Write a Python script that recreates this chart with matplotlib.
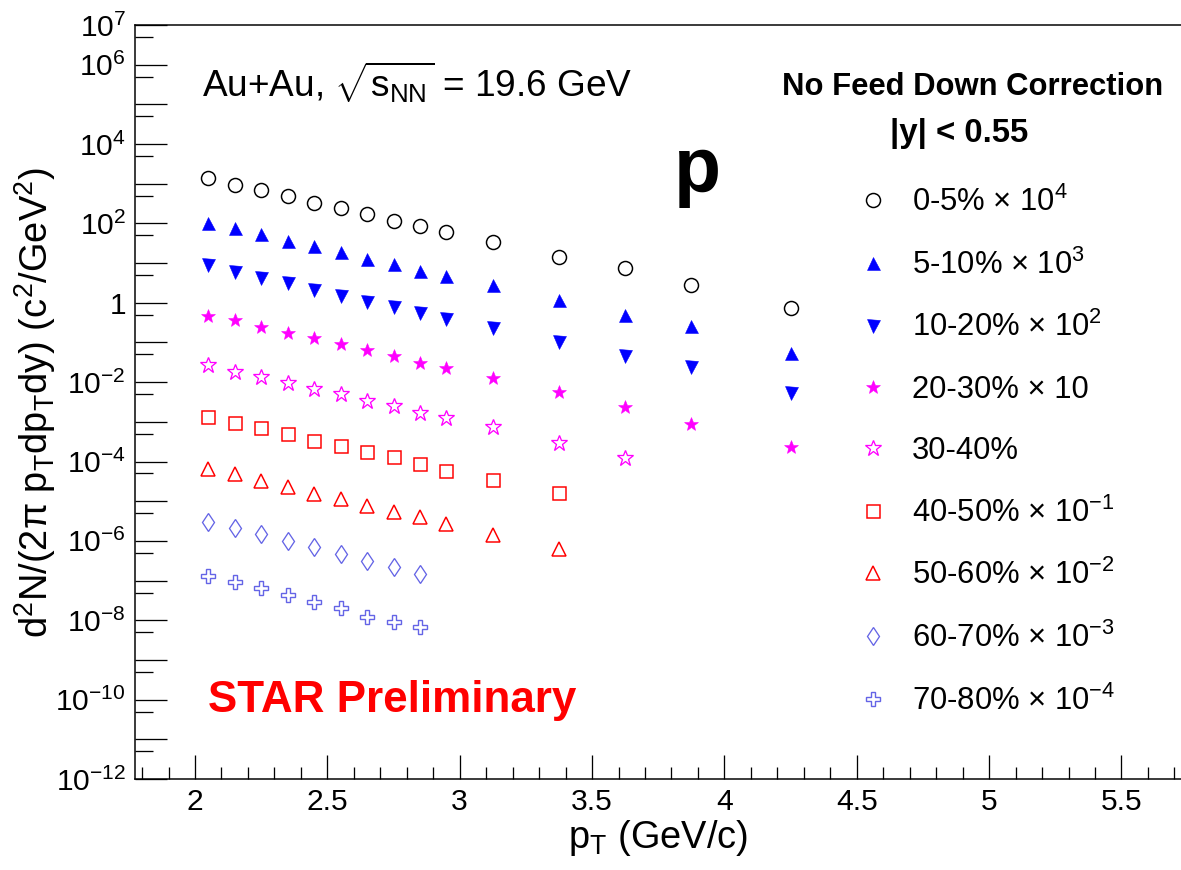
#!/usr/bin/env python3
"""Proton pT spectra, Au+Au 19.6 GeV, STAR preliminary style (ROOT look-alike)."""
import numpy as np
import matplotlib
matplotlib.use('Agg')
import matplotlib.pyplot as plt

plt.rcParams['font.family'] = ['Liberation Sans', 'DejaVu Sans']
plt.rcParams['mathtext.fontset'] = 'custom'
plt.rcParams['mathtext.rm'] = 'Liberation Sans'
plt.rcParams['mathtext.it'] = 'Liberation Sans:italic'
plt.rcParams['mathtext.bf'] = 'Liberation Sans:bold'
plt.rcParams['mathtext.default'] = 'regular'

# pT bin centres (GeV/c)
pt = [2.05, 2.15, 2.25, 2.35, 2.45, 2.55, 2.65, 2.75, 2.85, 2.95, 3.125, 3.375, 3.625, 3.875, 4.25]

# scaled yields as drawn (already multiplied by the factor in the legend)
y_0_5 = [1371, 944, 695, 490, 333, 249, 173, 117, 84.5, 60.7, 33.4, 14.2, 7.38, 2.80, 0.75]
y_5_10 = [104, 78, 53, 36.6, 26.9, 18.7, 12.7, 9.5, 6.43, 4.8, 2.75, 1.17, 0.49, 0.26, 0.055]
y_10_20 = [8.95, 5.96, 4.13, 3.09, 2.10, 1.48, 1.06, 0.77, 0.56, 0.383, 0.235, 0.101, 0.046, 0.0236, 0.0052]
y_20_30 = [0.472, 0.368, 0.249, 0.176, 0.127, 0.0897, 0.0645, 0.0455, 0.0309, 0.0223,
           0.0129, 0.00553, 0.00232, 0.000895, 0.000236]
y_30_40 = [0.027, 0.0183, 0.0137, 0.00934, 0.00659, 0.00493, 0.00334, 0.0025, 0.00169, 0.00122,
           0.000726, 0.000287, 0.000120]
y_40_50 = [0.00135, 0.000949, 0.00071, 0.000484, 0.000334, 0.00025, 0.00017, 0.000127, 8.65e-5, 5.86e-5,
           3.41e-5, 1.58e-5]
y_50_60 = [6.35e-5, 4.83e-5, 3.22e-5, 2.23e-5, 1.51e-5, 1.13e-5, 7.67e-6, 5.24e-6, 3.92e-6, 2.65e-6,
           1.40e-6, 6.12e-7]
y_60_70 = [3.03e-6, 2.14e-6, 1.46e-6, 9.9e-7, 6.87e-7, 4.67e-7, 3.16e-7, 2.15e-7, 1.46e-7]
y_70_80 = [1.32e-7, 9.34e-8, 6.37e-8, 4.31e-8, 2.93e-8, 2.0e-8, 1.22e-8, 9.16e-9, 6.86e-9]

labels = ['0-5% × 10$^{4}$', '5-10% × 10$^{3}$', '10-20% × 10$^{2}$', '20-30% × 10', '30-40%',
          '40-50% × 10$^{-1}$', '50-60% × 10$^{-2}$', '60-70% × 10$^{-3}$', '70-80% × 10$^{-4}$']

LBLUE = '#6464e6'
styles = [
    dict(marker='o', ms=14, mfc='none', mec='black', mew=1.5),
    dict(marker='^', ms=13, mfc='blue', mec='blue', mew=0.5),
    dict(marker='v', ms=13, mfc='blue', mec='blue', mew=0.5),
    dict(marker='*', ms=15, mfc='magenta', mec='magenta', mew=0.5),
    dict(marker='*', ms=17, mfc='none', mec='magenta', mew=1.3),
    dict(marker='s', ms=13, mfc='none', mec='red', mew=1.5),
    dict(marker='^', ms=14, mfc='none', mec='red', mew=1.5),
    dict(marker='d', ms=13, mfc='none', mec=LBLUE, mew=1.3),
    dict(marker='P', ms=14, mfc='none', mec=LBLUE, mew=1.4),
]
series = [y_0_5, y_5_10, y_10_20, y_20_30, y_30_40, y_40_50, y_50_60, y_60_70, y_70_80]

W, H = 1181, 870
fig = plt.figure(figsize=(W / 72, H / 72), dpi=72)
ax = fig.add_axes([135 / W, 91 / H, 1 - 135 / W, (779 - 25) / H])

handles = []
for ys, st, lab in zip(series, styles, labels):
    h, = ax.plot(pt[:len(ys)], ys, ls='none', label=lab, **st)
    handles.append(h)

ax.set_yscale('log')
ax.set_xlim(1.7733, 5.725)
ax.set_ylim(1e-12, 1e7)

# ROOT-like ticks
dec = np.arange(-12, 8)
ax.set_yticks([10.0 ** n for n in dec])
ax.set_yticklabels(['1' if n == 0 else (r'$10^{%d}$' % n if (n % 2 == 0 or n == 7) else '') for n in dec])
ax.set_yticks([5 * 10.0 ** n for n in range(-12, 7)], minor=True)
ax.yaxis.set_minor_formatter(matplotlib.ticker.NullFormatter())
ax.set_xticks(np.arange(2.0, 5.51, 0.5))
ax.set_xticklabels(['2', '2.5', '3', '3.5', '4', '4.5', '5', '5.5'])
ax.set_xticks(np.arange(1.8, 5.71, 0.1), minor=True)
ax.tick_params(axis='y', which='major', direction='in', length=32, width=1.3, labelsize=30, pad=9,
               right=False)
ax.tick_params(axis='y', which='minor', direction='in', length=18, width=1.3, right=False)
ax.tick_params(axis='x', which='major', direction='in', length=24, width=1.3, labelsize=30, pad=9,
               top=False)
ax.tick_params(axis='x', which='minor', direction='in', length=12, width=1.3, top=False)
for s in ['left', 'bottom', 'top']:
    ax.spines[s].set_linewidth(1.5)
ax.spines['right'].set_visible(False)

# axis titles
fig.text(35 / W, 1 - 402 / H, r'd$^{2}$N/(2$\pi$ p$_{T}$dp$_{T}$dy) (c$^{2}$/GeV$^{2}$)',
         rotation=90, ha='center', va='center', fontsize=38)
ax.text(0.586, -0.0915, r'p$_{T}$ (GeV/c)', transform=ax.transAxes, ha='right', va='baseline', fontsize=38)

# annotations
ax.text(0.064, 0.9045, r'Au+Au, $\sqrt{s_{NN}}$ = 19.6 GeV', transform=ax.transAxes,
        ha='left', va='baseline', fontsize=37)
ax.text(0.538, 0.7785, 'p', transform=ax.transAxes, ha='center', va='baseline', fontsize=77,
        fontweight='bold')
ax.text(0.801, 0.907, 'No Feed Down Correction', transform=ax.transAxes, ha='center', va='baseline',
        fontsize=31, fontweight='bold')
ax.text(0.788, 0.845, '|y| < 0.55', transform=ax.transAxes, ha='center', va='baseline',
        fontsize=33, fontweight='bold')
ax.text(0.0698, 0.0889, 'STAR Preliminary', transform=ax.transAxes, ha='left', va='baseline',
        fontsize=44, fontweight='bold', color='red')

ax.legend(handles=handles, loc='upper left', bbox_to_anchor=(0.6907, 0.7852), frameon=False,
          fontsize=31, numpoints=1, handlelength=1.0, handletextpad=0.76, labelspacing=1.01,
          borderpad=0, borderaxespad=0)

fig.savefig('out.png', dpi=72)
